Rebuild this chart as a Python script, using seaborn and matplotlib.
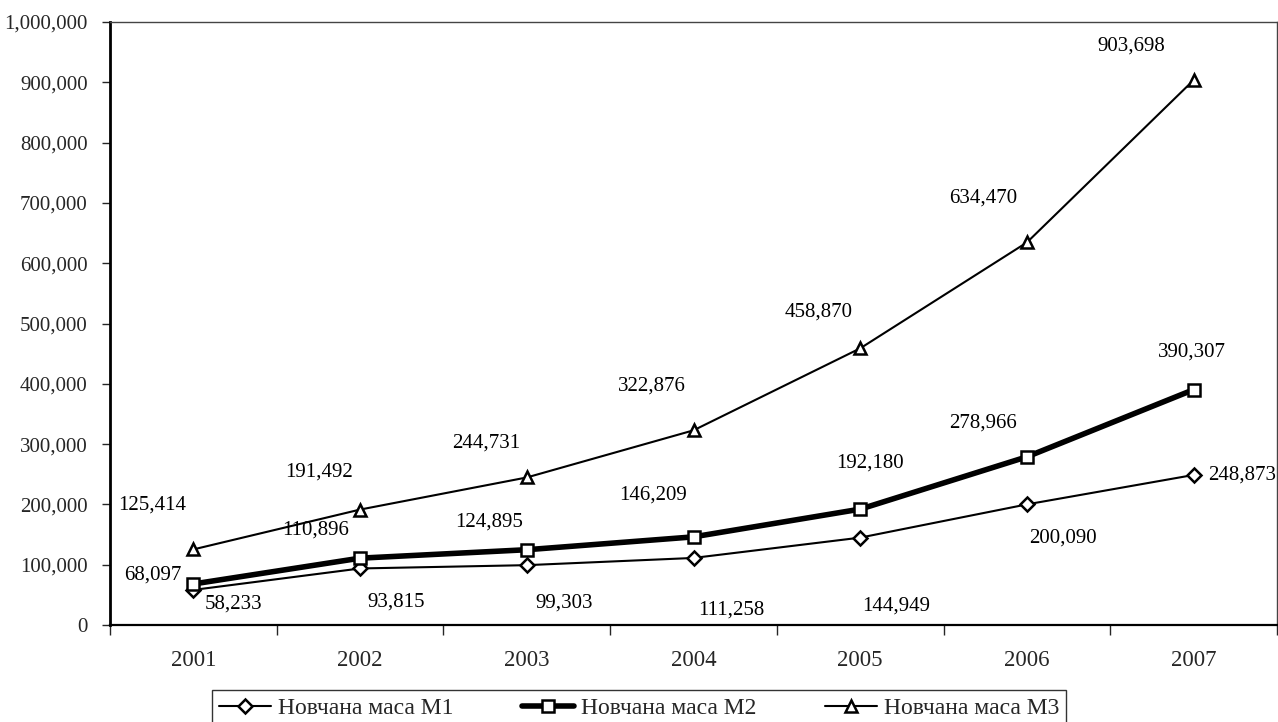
"""Money supply M1, M2, M3 line chart (Excel-style) with seaborn."""

import matplotlib

matplotlib.use("Agg")
import matplotlib.pyplot as plt
import numpy as np
import pandas as pd
import seaborn as sns
from matplotlib.ticker import FuncFormatter, MultipleLocator

years = ["2001", "2002", "2003", "2004", "2005", "2006", "2007"]
m1 = [58233, 93815, 99303, 111258, 144949, 200090, 248873]
m2 = [68097, 110896, 124895, 146209, 192180, 278966, 390307]
m3 = [125414, 191492, 244731, 322876, 458870, 634470, 903698]
series_names = ["Новчана маса M1", "Новчана маса M2", "Новчана маса M3"]

# label offsets in pixels (dx, dy with y pointing up)
m1_offsets = [(40, -14), (36, -34), (37, -38), (38, -52), (36, -68), (36, -34), (49, 0)]
m2_offsets = [(-41, 9), (-44, 28), (-38, 28), (-40, 42), (10, 46), (-44, 34), (-2, 38)]
m3_offsets = [(-41, 44), (-41, 38), (-41, 34), (-42, 44), (-42, 36), (-44, 44), (-62, 34)]

sns.set_style("white")
plt.rcParams["font.family"] = ["Liberation Serif", "DejaVu Serif"]

fig = plt.figure(figsize=(12.78, 7.22), dpi=100)
ax = fig.add_axes([0.0861, 0.1343, 0.9131, 0.8352])

x = np.arange(len(years))
styles = [
    (m1, "D", 7, 1.5, m1_offsets),
    (m2, "s", 9, 4.0, m2_offsets),
    (m3, "^", 9, 1.5, m3_offsets),
]
for name, (vals, mk, ms, lw, offs) in zip(series_names, styles):
    df = pd.DataFrame({"x": x, "y": vals})
    sns.lineplot(
        data=df, x="x", y="y", ax=ax, color="black", linewidth=lw,
        marker=mk, markersize=ms, markerfacecolor="white",
        markeredgecolor="black", markeredgewidth=1.8, label=name,
    )
    for xi, v, (dx, dy) in zip(x, vals, offs):
        ax.annotate(f"{v:,}", (xi, v), xytext=(dx, dy), textcoords="offset pixels",
                    ha="center", va="center", fontsize=15, color="black")

ax.set_xlim(-0.5, len(years) - 0.5)
ax.set_ylim(0, 1_000_000)
ax.yaxis.set_major_locator(MultipleLocator(100_000))
ax.yaxis.set_major_formatter(FuncFormatter(lambda v, _: f"{int(v):,}"))
ax.set_xticks(np.arange(-0.5, len(years)))
ax.set_xticklabels([])
ax.set_xticks(x, minor=True)
ax.set_xticklabels(years, minor=True)
ax.tick_params(axis="x", which="major", length=7, width=1, direction="out", bottom=True)
ax.tick_params(axis="x", which="minor", length=0, pad=18, labelsize=16.5)
ax.tick_params(axis="y", length=6, width=1, direction="out", left=True, pad=10, labelsize=15)
ax.set_xlabel("")
ax.set_ylabel("")

for side in ["top", "right"]:
    ax.spines[side].set_linewidth(1.0)
    ax.spines[side].set_color("#444444")
ax.spines["left"].set_linewidth(2.0)
ax.spines["bottom"].set_linewidth(1.6)
for side in ["left", "bottom"]:
    ax.spines[side].set_color("black")

ax.get_legend().remove()
handles, labels = ax.get_legend_handles_labels()
leg = fig.legend(
    handles, labels, loc="lower center", bbox_to_anchor=(0.5, -0.022), ncol=3,
    frameon=True, fancybox=False, edgecolor="black", fontsize=17,
    handlelength=2.2, handletextpad=0.3, columnspacing=2.9, borderpad=0.3,
)
leg.get_frame().set_linewidth(1.0)

fig.savefig("out.png", dpi=100)
